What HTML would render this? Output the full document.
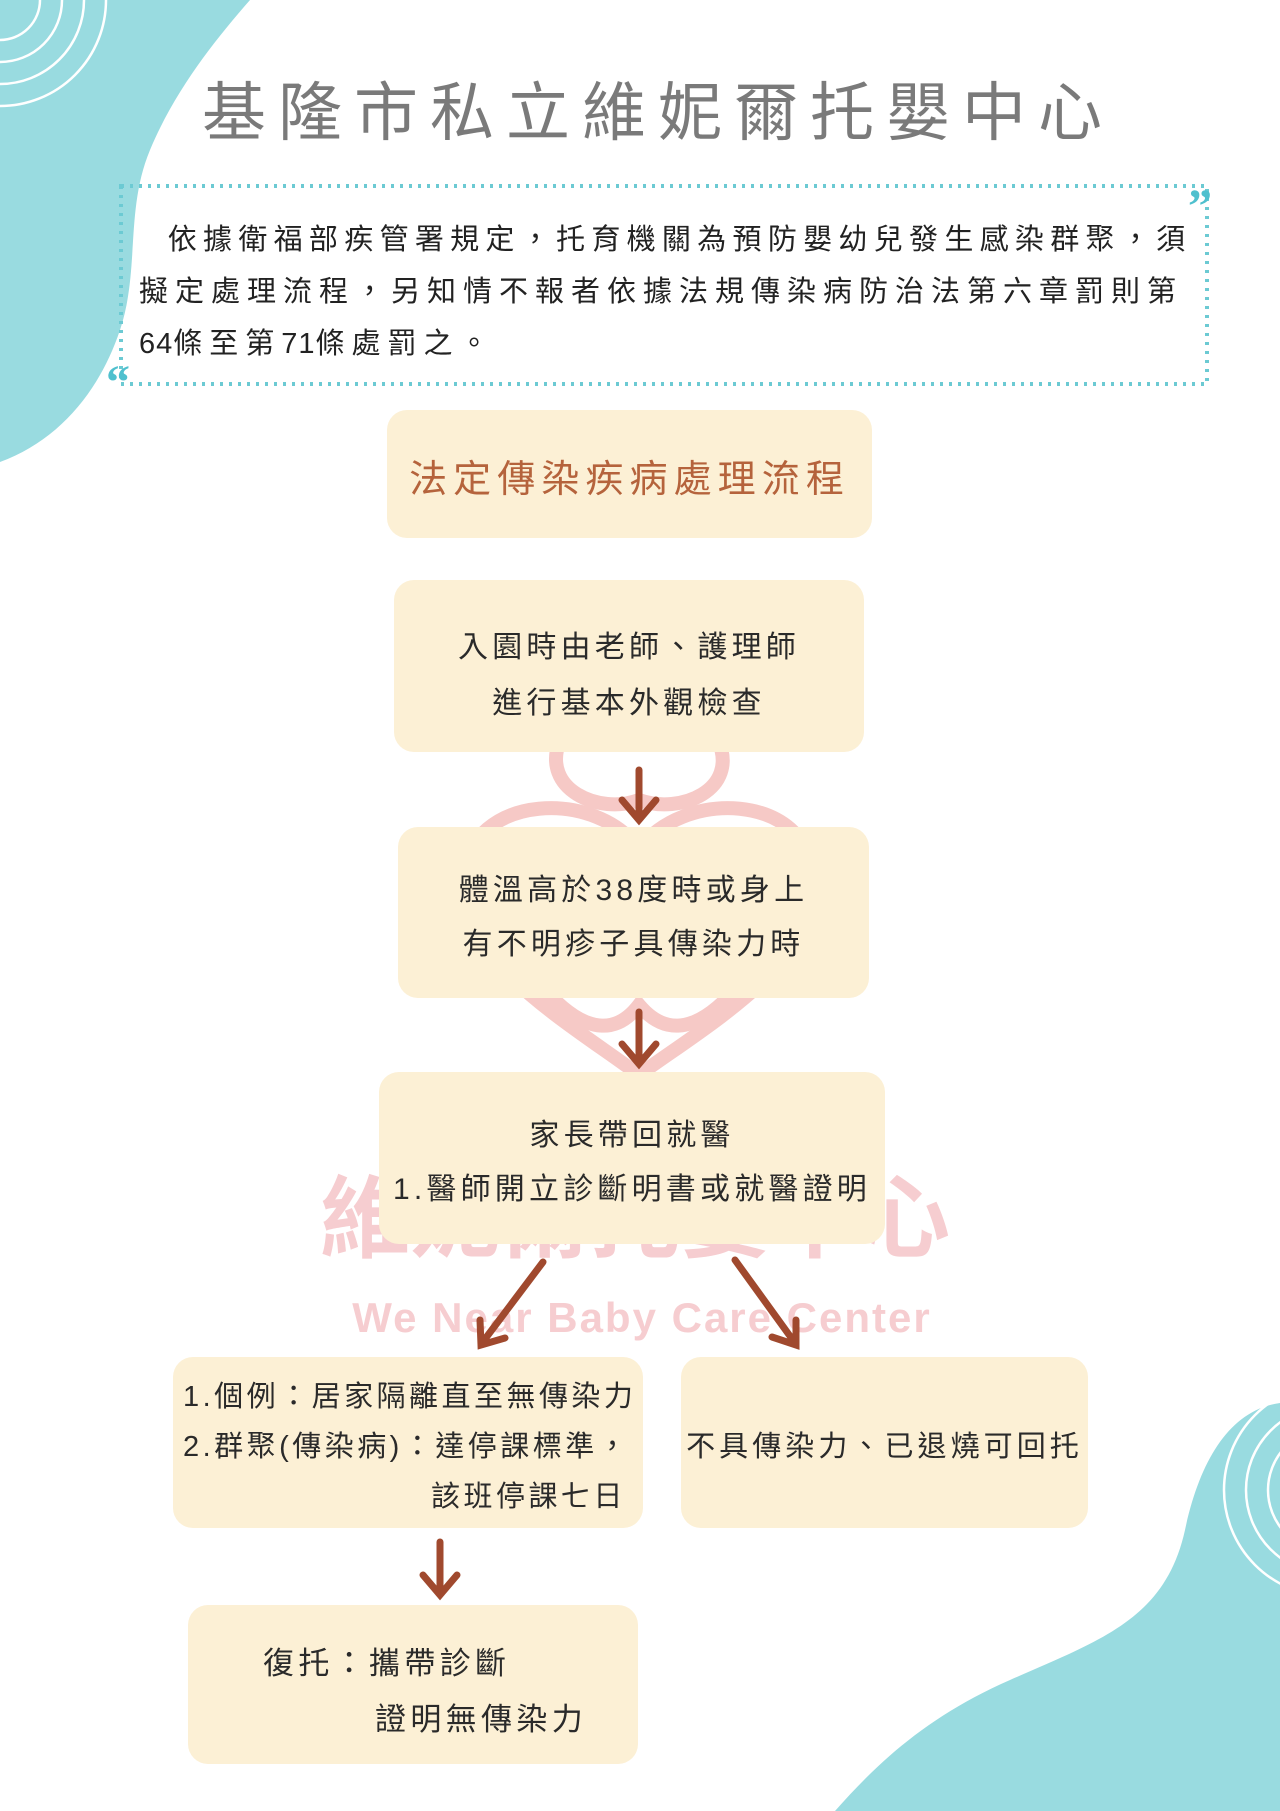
<!DOCTYPE html>
<html><head><meta charset="utf-8"><style>
body{margin:0;width:1280px;height:1811px;position:relative;overflow:hidden;background:#fff;font-family:"Liberation Sans","Noto Sans CJK TC",sans-serif;}
.b{position:absolute;background:#fcf0d5;border-radius:20px;}
.t{position:absolute;white-space:nowrap;color:#2a2a2a;letter-spacing:0.14em;}
</style></head><body>
<svg width="1280" height="1811" style="position:absolute;left:0;top:0">
<path d="M0 0 H250 C215 40 175 90 150 150 C125 210 140 270 120 330 C100 390 60 440 0 462 Z" fill="#99dbe0"/>
<g fill="none" stroke="#fff" stroke-width="2.5">
<circle cx="0" cy="0" r="40"/><circle cx="0" cy="0" r="62"/><circle cx="0" cy="0" r="84"/><circle cx="0" cy="0" r="106"/>
</g>
<path d="M1280 1403 C1230 1410 1200 1460 1185 1530 C1165 1620 1100 1640 1010 1680 C930 1715 880 1760 835 1811 H1280 Z" fill="#99dbe0"/>
<g fill="none" stroke="#fff" stroke-width="2.5">
<circle cx="1330" cy="1490" r="40"/><circle cx="1330" cy="1490" r="62"/><circle cx="1330" cy="1490" r="84"/><circle cx="1330" cy="1490" r="106"/>
</g>
<g fill="none" stroke="#f6c9c6" stroke-width="14">
<path d="M639 850 C600 790 470 790 462 880 C455 960 580 1030 639 1075 C700 1030 823 960 815 880 C808 790 680 790 639 850 Z"/>
<path d="M560 740 C540 790 600 815 639 800 C680 815 740 790 718 740"/>
<path d="M545 990 C590 1040 620 1030 639 1005 C660 1030 690 1040 735 990"/>
</g>
<text x="635" y="1250" text-anchor="middle" font-family="Liberation Sans, Noto Sans CJK TC, sans-serif" font-size="90" font-weight="bold" fill="#f6cdd0">維妮爾托嬰中心</text>
<text x="642" y="1332" text-anchor="middle" font-family="Liberation Sans, sans-serif" font-size="42" font-weight="bold" fill="#f6cdd0" letter-spacing="2">We Near Baby Care Center</text>
<rect x="121" y="186" width="1086" height="198" fill="none" stroke="#6ccad3" stroke-width="4" stroke-dasharray="3 6"/>
<text x="1188" y="222" font-family="Liberation Serif, serif" font-size="48" font-weight="bold" fill="#4fc0ce">”</text>
<text x="106" y="398" font-family="Liberation Serif, serif" font-size="48" font-weight="bold" fill="#4fc0ce">“</text>
</svg>
<div class="t" style="left:202px;top:62px;font-size:64px;letter-spacing:12px;color:#7a7a7a">基隆市私立維妮爾托嬰中心</div>
<div class="t" style="left:139px;top:214px;font-size:29px;line-height:52px;letter-spacing:7px;color:#222"><span style="letter-spacing:6.3px">&nbsp;&nbsp;依據衛福部疾管署規定，托育機關為預防嬰幼兒發生感染群聚，須</span><br>擬定處理流程，另知情不報者依據法規傳染病防治法第六章罰則第<br><span style="letter-spacing:1px">64</span>條至第<span style="letter-spacing:1px">71</span>條處罰之。</div>

<div class="b" style="left:387px;top:410px;width:485px;height:128px"></div>
<div class="t" style="left:387px;width:485px;text-align:center;top:448px;font-size:38px;color:#b5633c;letter-spacing:0.16em">法定傳染疾病處理流程</div>

<div class="b" style="left:394px;top:580px;width:470px;height:172px"></div>
<div class="t" style="left:394px;width:470px;text-align:center;top:620px;font-size:30px;line-height:56px">入園時由老師、護理師<br>進行基本外觀檢查</div>

<div class="b" style="left:398px;top:827px;width:471px;height:171px"></div>
<div class="t" style="left:398px;width:471px;text-align:center;top:864px;font-size:30px;line-height:54px">體溫高於38度時或身上<br>有不明疹子具傳染力時</div>

<div class="b" style="left:379px;top:1072px;width:506px;height:172px"></div>
<div class="t" style="left:379px;width:506px;text-align:center;top:1109px;font-size:30px;line-height:54px">家長帶回就醫<br>1.醫師開立診斷明書或就醫證明</div>

<div class="b" style="left:173px;top:1357px;width:470px;height:171px"></div>
<div class="t" style="left:183px;top:1372px;font-size:29px;line-height:50px;letter-spacing:0.12em">1.個例：居家隔離直至無傳染力<br>2.群聚(傳染病)：達停課標準，<br><span style="padding-left:248px">該班停課七日</span></div>

<div class="b" style="left:681px;top:1357px;width:407px;height:171px"></div>
<div class="t" style="left:681px;width:407px;text-align:center;top:1423px;font-size:29px">不具傳染力、已退燒可回托</div>

<div class="b" style="left:188px;top:1605px;width:450px;height:159px"></div>
<div class="t" style="left:263px;top:1636px;font-size:31px;line-height:56px">復托：攜帶診斷<br><span style="padding-left:112px">證明無傳染力</span></div>

<svg width="1280" height="1811" style="position:absolute;left:0;top:0">
<g stroke="#a0492e" stroke-width="7" stroke-linecap="round" fill="none">
<path d="M639 770 V818 M622 800 L639 820 L656 800"/>
<path d="M639 1012 V1062 M622 1044 L639 1064 L656 1044"/>
<path d="M543 1262 L482 1343 M480 1320 L481 1345 L505 1338"/>
<path d="M735 1260 L795 1343 M772 1337 L796 1345 L796 1320"/>
<path d="M440 1542 V1593 M423 1575 L440 1595 L457 1575"/>
</g>
</svg>
</body></html>
